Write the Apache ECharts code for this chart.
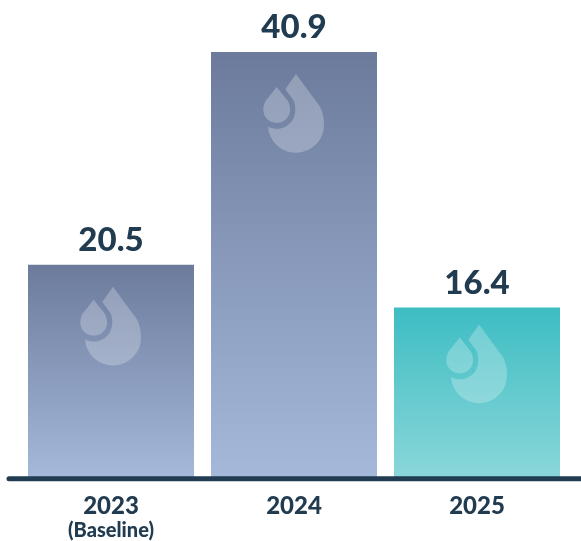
<!DOCTYPE html>
<html>
<head>
<meta charset="utf-8">
<style>html,body{margin:0;padding:0;background:#fff}#chart{width:581px;height:541px}</style>
<script src="https://cdn.jsdelivr.net/npm/echarts@6/dist/echarts.min.js"></script>
</head>
<body>
<div id="chart"></div>
<script>
const categories = ['2023', '2024', '2025'];
const categoryNotes = ['(Baseline)', '', ''];
const values = [20.5, 40.9, 16.4];
const valueLabels = ['20.5', '40.9', '16.4'];

const INK = '#213B51';
const SLATE_FILL = { top: '#6C7B9C', bottom: '#A5B9DB' };
const TEAL_FILL = { top: '#3DBDC3', bottom: '#8BD7D9' };
const barFills = [SLATE_FILL, SLATE_FILL, TEAL_FILL];
const dropDepth = [22, 22, 17];

// Water-drop emblem: a large drop with a bite taken out around a smaller one.
const DROP_PATH =
  'M28 0 L51 32 C54 36 56 44 56 51 A28 28 0 1 1 0 54 ' +
  'A18.7 18.7 0 0 0 27.3 36.7 C27.3 32 26.6 28.5 25 26 L17.3 15.7 Z ' +
  'M8.7 13.3 L19.7 27.3 C21.3 30 22.1 33.5 22.1 36.7 A13.4 13.4 0 1 1 -4.7 36.7 C-4.7 33.5 -3.9 30 -2.3 27.3 Z';

const chart = echarts.init(document.getElementById('chart'), null, { renderer: 'canvas' });

chart.setOption({
  animation: false,
  grid: { left: 19.5, width: 549, top: 52, height: 427 },
  xAxis: {
    type: 'category',
    data: categories,
    axisLine: { show: false },
    axisTick: { show: false },
    axisLabel: {
      margin: 14,
      interval: 0,
      formatter: (name, i) => `{year|${name}}\n{note|${categoryNotes[i] || ' '}}`,
      rich: {
        year: { fontFamily: 'Lato', fontWeight: 900, fontSize: 24, color: INK, lineHeight: 27 },
        note: { fontFamily: 'Lato', fontWeight: 900, fontSize: 20, color: INK, lineHeight: 23 }
      }
    }
  },
  yAxis: { type: 'value', min: 0, max: 40.9, show: false },
  series: [
    {
      type: 'bar',
      barWidth: 166,
      data: values.map((v, i) => ({
        value: v,
        itemStyle: {
          color: {
            type: 'linear', x: 0, y: 0, x2: 0, y2: 1,
            colorStops: [
              { offset: 0, color: barFills[i].top },
              { offset: 1, color: barFills[i].bottom }
            ]
          }
        }
      })),
      label: {
        show: true,
        position: 'top',
        distance: 8,
        formatter: p => valueLabels[p.dataIndex],
        fontFamily: 'Lato',
        fontWeight: 900,
        fontSize: 33,
        color: INK
      }
    },
    {
      type: 'custom',
      silent: true,
      z: 3,
      data: values.map((v, i) => [i, v]),
      encode: { x: 0, y: 1 },
      renderItem: (params, api) => {
        const top = api.coord([api.value(0), api.value(1)]);
        return {
          type: 'path',
          x: top[0] + 2 - 28,
          y: top[1] + dropDepth[params.dataIndex],
          shape: { pathData: DROP_PATH, x: -4.7, y: 0, width: 60.7, height: 78.7, layout: 'cover' },
          style: { fill: 'rgba(255,255,255,0.25)' }
        };
      }
    }
  ],
  graphic: [
    {
      type: 'line',
      z: 10,
      shape: { x1: 9, y1: 478.8, x2: 590, y2: 478.8 },
      style: { stroke: INK, lineWidth: 5, lineCap: 'round' }
    }
  ]
});
</script>
</body>
</html>
